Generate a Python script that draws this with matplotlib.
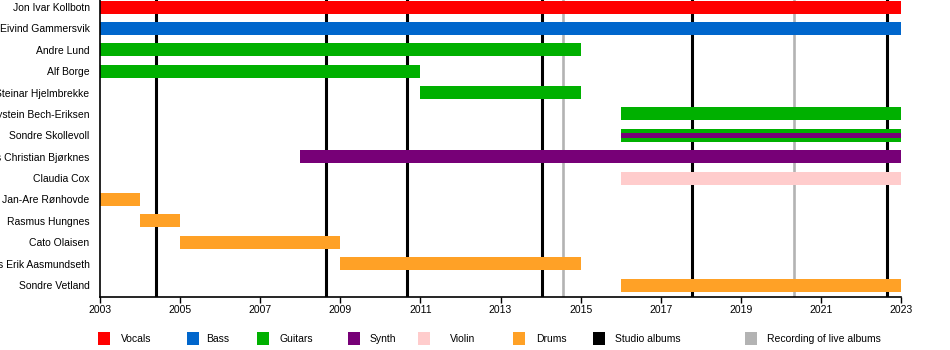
import matplotlib
matplotlib.use("Agg")
import matplotlib.pyplot as plt
from matplotlib.patches import Rectangle

plt.rcParams['font.family'] = ['Liberation Sans', 'DejaVu Sans']

members = ["Jon Ivar Kollbotn", "Eivind Gammersvik", "Andre Lund", "Alf Borge",
           "Steinar Hjelmbrekke", "Øystein Bech-Eriksen", "Sondre Skollevoll",
           "Hans Christian Bjørknes", "Claudia Cox", "Jan-Are Rønhovde",
           "Rasmus Hungnes", "Cato Olaisen", "Hans Erik Aasmundseth", "Sondre Vetland"]

# (member, start, end, role, inner_stripe)
span_member = ["Jon Ivar Kollbotn", "Eivind Gammersvik", "Andre Lund", "Alf Borge",
               "Steinar Hjelmbrekke", "Øystein Bech-Eriksen", "Sondre Skollevoll",
               "Sondre Skollevoll", "Hans Christian Bjørknes", "Claudia Cox",
               "Jan-Are Rønhovde", "Rasmus Hungnes", "Cato Olaisen",
               "Hans Erik Aasmundseth", "Sondre Vetland"]
span_start = [2003, 2003, 2003, 2003, 2011, 2016, 2016, 2016, 2008, 2016, 2003, 2004, 2005, 2009, 2016]
span_end = [2023, 2023, 2015, 2011, 2015, 2023, 2023, 2023, 2023, 2023, 2004, 2005, 2009, 2015, 2023]
span_role = ["Vocals", "Bass", "Guitars", "Guitars", "Guitars", "Guitars", "Guitars",
             "Synth", "Synth", "Violin", "Drums", "Drums", "Drums", "Drums", "Drums"]
span_inner = [False, False, False, False, False, False, False, True, False, False,
              False, False, False, False, False]

studio_albums = [2004.40, 2008.64, 2010.67, 2014.04, 2017.78, 2022.65]
live_albums = [2014.56, 2020.33]

roles = ["Vocals", "Bass", "Guitars", "Synth", "Violin", "Drums"]
role_colors = {"Vocals": "#FF0000", "Bass": "#0066CC", "Guitars": "#00B000",
               "Synth": "#770077", "Violin": "#FFCCCC", "Drums": "#FFA126"}
studio_color = "#000000"
live_color = "#B3B3B3"

year_min, year_max = 2003, 2023
year_ticks = list(range(2003, 2024, 2))

W, H = 950, 350
fig = plt.figure(figsize=(W / 100, H / 100), dpi=100)
ax = fig.add_axes([100 / W, 1 - 297 / H, 801 / W, 297 / H])

n = len(members)
ax.set_xlim(year_min, year_max)
ax.set_ylim(n - 1 + 0.56, -0.33)

for x in studio_albums:
    ax.axvline(x, color=studio_color, lw=2.2, zorder=1)
for x in live_albums:
    ax.axvline(x, color=live_color, lw=1.9, zorder=1)

bar_h = 0.61
for m, s, e, r, inner in zip(span_member, span_start, span_end, span_role, span_inner):
    y = members.index(m)
    h = bar_h * 0.4 if inner else bar_h
    ax.barh(y, e - s, left=s, height=h, color=role_colors[r], zorder=3 if inner else 2,
            linewidth=0)

ax.set_yticks(range(n))
ax.set_yticklabels(members, fontsize=7.5)
ax.tick_params(axis='y', length=0, pad=7.5)
ax.set_xticks(year_ticks)
ax.set_xticklabels([str(t) for t in year_ticks], fontsize=7.5)
ax.tick_params(axis='x', length=4, width=1, pad=2)
for sp in ["top", "right"]:
    ax.spines[sp].set_visible(False)
for sp in ["left", "bottom"]:
    ax.spines[sp].set_linewidth(1.2)
    ax.spines[sp].set_zorder(4)

# legend
legend_labels = roles + ["Studio albums", "Recording of live albums"]
legend_colors = [role_colors[r] for r in roles] + [studio_color, live_color]
sq_x = [98, 187, 257, 348, 418, 513, 593, 745]
txt_x = [121, 206, 279, 370, 450, 536, 615, 767]
for lab, col, sx, tx in zip(legend_labels, legend_colors, sq_x, txt_x):
    fig.patches.append(Rectangle((sx / W, 1 - 345 / H), 12 / W, 13 / H,
                                 transform=fig.transFigure, color=col, lw=0))
    fig.text(tx / W, 1 - 339 / H, lab, fontsize=7.5, va='center', ha='left')

fig.savefig("out.png", dpi=100)
